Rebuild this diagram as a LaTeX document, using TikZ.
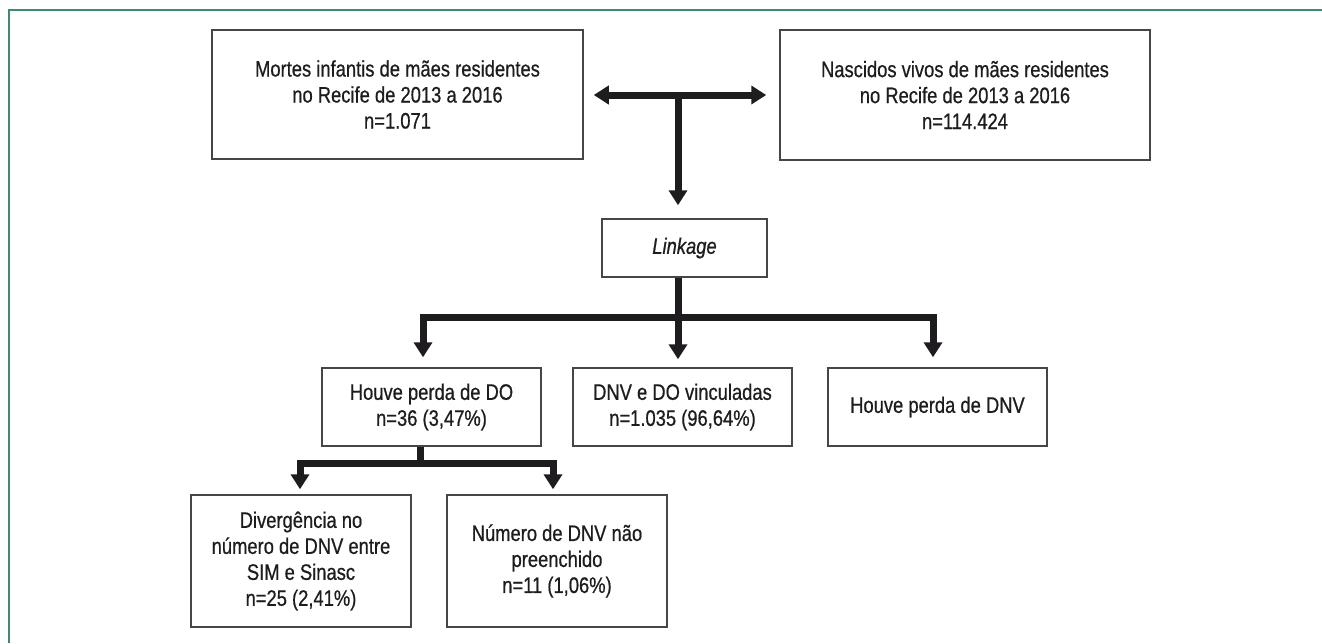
\documentclass[tikz,border=0pt]{standalone}
\usepackage{fontspec}
\setmainfont{Liberation Sans}[FakeStretch=0.82,FakeBold=0.6]
\usetikzlibrary{arrows.meta,positioning,calc}
\definecolor{framec}{RGB}{62,138,118}
\definecolor{linec}{RGB}{70,70,70}
\definecolor{inkc}{RGB}{30,28,30}
\tikzset{
  stage/.style={rectangle,draw=linec,line width=0.75pt,fill=white,text=inkc,align=center,inner sep=0pt,font=\fontsize{11.2}{13}\selectfont},
  fat/.style={line width=3.5pt,inkc,line join=miter},
  tipf/.tip={Triangle[width=9pt,length=7.5pt]},
  fatarr/.style={fat,-tipf},
}

\begin{document}
\begin{tikzpicture}[x=0.5pt,y=-0.5pt]
  \useasboundingbox (0,0) rectangle (1322,643);
  % frame, only top and left edges show
  \draw[framec,line width=1pt] (1322,10) -- (9,10) -- (9,643);
  % source records
  \node[stage,minimum width=185.5pt,minimum height=64.5pt] (deaths) at (397.5,94.5){Mortes infantis de mães residentes\\no Recife de 2013 a 2016\\n=1.071};
  \node[stage,minimum width=185pt,minimum height=65pt] (births) at (965,95){Nascidos vivos de mães residentes\\no Recife de 2013 a 2016\\n=114.424};
  \node[stage,minimum width=82.5pt,minimum height=29pt] (link) at (684.5,248){\itshape Linkage};
  % linkage results
  \node[stage,minimum width=109.5pt,minimum height=39pt] (lostdo) at (431.5,407){Houve perda de DO\\n=36 (3,47\%)};
  \node[stage,minimum width=109.5pt,minimum height=39pt] (linked) at (682.5,407){DNV e DO vinculadas\\n=1.035 (96,64\%)};
  \node[stage,minimum width=109.5pt,minimum height=39pt] (lostdnv) at (937.5,407){Houve perda de DNV};
  \node[stage,minimum width=110pt,minimum height=66pt] (diverg) at (301,561){Divergência no\\número de DNV entre\\SIM e Sinasc\\n=25 (2,41\%)};
  \node[stage,minimum width=110pt,minimum height=66pt] (blank) at (557,561){Número de DNV não\\preenchido\\n=11 (1,06\%)};
  % junction points of the thick connectors
  \coordinate (split) at (678,95);
  \coordinate (bar) at (678,317); \coordinate (barL) at (423,317); \coordinate (barR) at (933,317);
  \coordinate (sub) at (420,463); \coordinate (subL) at (300,463); \coordinate (subR) at (553,463);
  \draw[fat,tipf-tipf,shorten <=5pt,shorten >=6.5pt] (deaths.east |- split) -- (births.west |- split);
  \draw[fatarr,shorten >=6.5pt] (split) -- (split |- link.north);
  \draw[fat] (split |- link.south) -- (bar);
  \draw[fatarr,shorten >=4pt] (bar) -- (bar |- linked.north);
  \draw[fatarr,shorten >=5pt] (barR) -- (barL) -- (barL |- lostdo.north);
  \draw[fatarr,shorten >=5pt] (barL) -- (barR) -- (barR |- lostdnv.north);
  \draw[fat] (lostdo.south -| sub) -- (sub);
  \draw[fatarr,shorten >=2.5pt] (subR) -- (subL) -- (subL |- diverg.north);
  \draw[fatarr,shorten >=2.5pt] (subL) -- (subR) -- (subR |- blank.north);
\end{tikzpicture}
\end{document}
